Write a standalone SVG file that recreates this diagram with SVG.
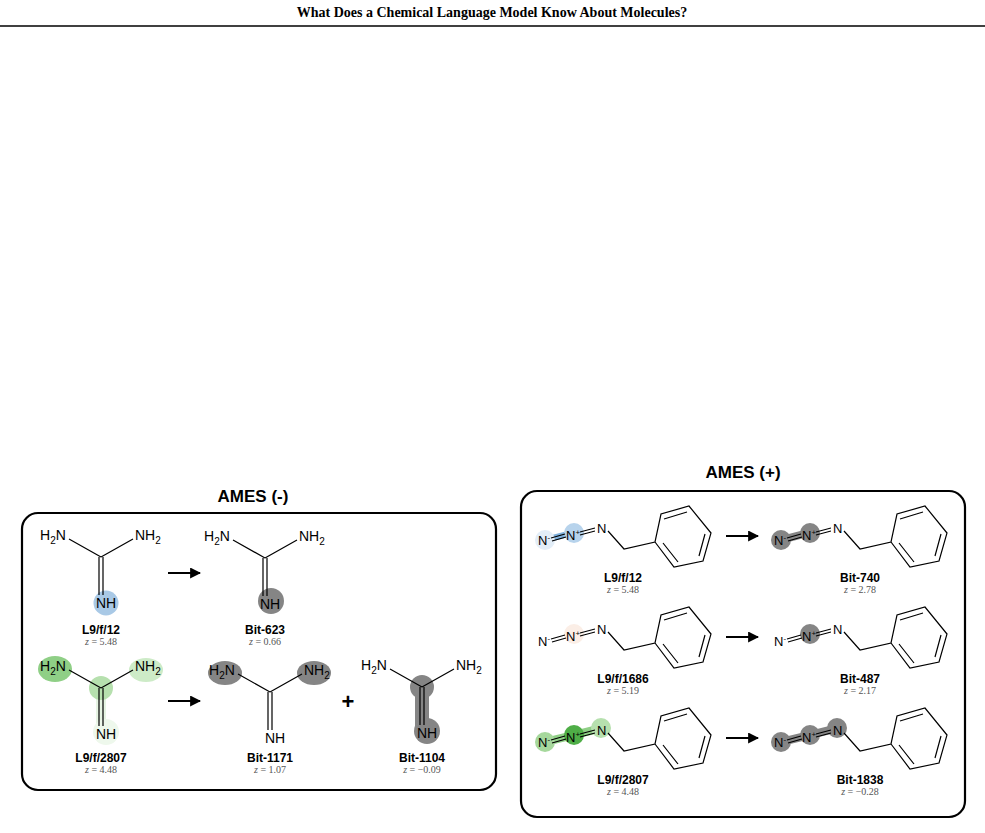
<svg xmlns="http://www.w3.org/2000/svg" xmlns:xlink="http://www.w3.org/1999/xlink" width="985" height="833" viewBox="0 0 985 833">
<style>
.t{font-family:"Liberation Sans",Arial,sans-serif}
.title{font-family:"Liberation Serif",serif;font-weight:bold;font-size:14px}
.hd{font-family:"Liberation Sans",Arial,sans-serif;font-weight:bold;font-size:17px}
.lab{font-family:"Liberation Sans",Arial,sans-serif;font-weight:bold;font-size:12px;text-anchor:middle}
.z{font-family:"Liberation Serif",serif;font-size:10px;fill:#555;text-anchor:middle}
.at{font-family:"Liberation Sans",Arial,sans-serif;font-size:14px}
.sa{font-family:"Liberation Sans",Arial,sans-serif;font-size:13px}
.b{stroke:#000;stroke-width:1.2;fill:none}
.box{fill:none;stroke:#000;stroke-width:2.2}
.arr{stroke:#000;stroke-width:2}
.gr{fill:#858585}
</style>
<defs>
<marker id="ah" viewBox="0 0 10 10" refX="9" refY="5" markerWidth="5.5" markerHeight="5.5" orient="auto"><path d="M0,0L10,5L0,10z"/></marker>
<g id="guan">
<path class="b" d="M0,0L-32,-18M0,0L32,-18M-2,0V38M2,0V38"/>
<text class="at" x="-61" y="-17">H<tspan font-size="10" dy="4">2</tspan><tspan dy="-4">N</tspan></text>
<text class="at" x="34" y="-17">NH<tspan font-size="10" dy="4">2</tspan></text>
<text class="at" x="-5" y="51">NH</text>
</g>
<g id="azide">
<path class="b" d="M8,-2L22,-6M9,1L23,-3M37,-8L52,-12M37,-5L52,-9M65,-9L81,9L112,2L118,-26L146,-34L168,-7L160,21L131,27L112,2M121,-21L144,-28M162,-6L156,16M135,22L120,3"/>
<text class="sa" x="-5" y="5">N<tspan font-size="8" dy="-5">-</tspan></text>
<text class="sa" x="23" y="0">N<tspan font-size="8" dy="-5">+</tspan></text>
<text class="sa" x="54" y="-7">N</text>
</g>
</defs>
<text class="title" x="492" y="17" text-anchor="middle">What Does a Chemical Language Model Know About Molecules?</text>
<line x1="0" y1="26" x2="985" y2="26" stroke="#000" stroke-width="1.5"/>

<text class="hd" x="253" y="502" text-anchor="middle">AMES (-)</text>
<rect class="box" x="22" y="513" width="474" height="277" rx="16"/>
<text class="hd" x="743" y="478" text-anchor="middle">AMES (+)</text>
<rect class="box" x="521" y="491" width="444" height="326" rx="16"/>

<g id="neg-l9f12">
<circle cx="106" cy="603" r="12.5" fill="#a9c9e6"/>
<use xlink:href="#guan" x="101" y="557"/>
<text class="lab" x="101" y="634">L9/f/12</text><text class="z" x="101" y="645"><tspan font-style="italic">z</tspan> = 5.48</text>
</g>
<g id="neg-bit623">
<circle cx="271" cy="601" r="13" class="gr"/>
<use xlink:href="#guan" x="265" y="558"/>
<text class="lab" x="265" y="634">Bit-623</text><text class="z" x="265" y="645"><tspan font-style="italic">z</tspan> = 0.66</text>
</g>
<g id="neg-l9f2807">
<rect x="96" y="688" width="10" height="38" fill="#e6f4e3"/>
<circle cx="106" cy="732" r="13" fill="#eef8ec"/>
<circle cx="101" cy="688" r="12" fill="#b6e0ae"/>
<ellipse cx="55" cy="669" rx="17" ry="13" fill="#8fcf86"/>
<ellipse cx="146" cy="670" rx="17" ry="12" fill="#cdebc7"/>
<use xlink:href="#guan" x="101" y="688"/>
<text class="lab" x="101" y="762">L9/f/2807</text><text class="z" x="101" y="773"><tspan font-style="italic">z</tspan> = 4.48</text>
</g>
<g id="neg-bit1171">
<ellipse cx="225" cy="673" rx="17" ry="12" class="gr"/>
<ellipse cx="314" cy="673" rx="17" ry="12" class="gr"/>
<use xlink:href="#guan" x="270" y="692"/>
<text class="lab" x="270" y="762">Bit-1171</text><text class="z" x="270" y="773"><tspan font-style="italic">z</tspan> = 1.07</text>
</g>
<g id="neg-bit1104">
<rect x="415" y="687" width="14" height="44" class="gr"/>
<circle cx="422" cy="687" r="12" class="gr"/>
<circle cx="427" cy="731" r="13" class="gr"/>
<use xlink:href="#guan" x="422" y="687"/>
<text class="lab" x="422" y="762">Bit-1104</text><text class="z" x="422" y="773"><tspan font-style="italic">z</tspan> = −0.09</text>
</g>
<text class="t" x="348" y="709" font-size="22" font-weight="bold" text-anchor="middle">+</text>

<g id="pos-l9f12">
<path d="M545,540L572,533" stroke="#7fb0dc" stroke-width="6"/>
<circle cx="545" cy="540" r="10" fill="#e3eef8"/>
<circle cx="574" cy="533" r="10" fill="#b7d3ec"/>
<use xlink:href="#azide" x="543" y="540"/>
<text class="lab" x="623" y="582">L9/f/12</text><text class="z" x="623" y="593"><tspan font-style="italic">z</tspan> = 5.48</text>
</g>
<g id="pos-bit740">
<path d="M781,540L808,533" stroke="#858585" stroke-width="8"/>
<circle cx="781" cy="540" r="10" class="gr"/><circle cx="810" cy="533" r="10" class="gr"/>
<use xlink:href="#azide" x="779" y="540"/>
<text class="lab" x="860" y="582">Bit-740</text><text class="z" x="860" y="593"><tspan font-style="italic">z</tspan> = 2.78</text>
</g>
<g id="pos-l9f1686">
<circle cx="574" cy="634" r="10" fill="#fbeee6"/>
<use xlink:href="#azide" x="543" y="641"/>
<text class="lab" x="623" y="683">L9/f/1686</text><text class="z" x="623" y="694"><tspan font-style="italic">z</tspan> = 5.19</text>
</g>
<g id="pos-bit487">
<circle cx="810" cy="634" r="10" class="gr"/>
<use xlink:href="#azide" x="779" y="641"/>
<text class="lab" x="860" y="683">Bit-487</text><text class="z" x="860" y="694"><tspan font-style="italic">z</tspan> = 2.17</text>
</g>
<g id="pos-l9f2807">
<path d="M545,742L574,735L602,728" stroke="#8fcf86" stroke-width="8"/>
<circle cx="545" cy="742" r="10" fill="#a6d89c"/>
<circle cx="574" cy="735" r="10" fill="#4fae47"/>
<circle cx="601" cy="728" r="10" fill="#b6e0ae"/>
<use xlink:href="#azide" x="543" y="742"/>
<text class="lab" x="623" y="784">L9/f/2807</text><text class="z" x="623" y="795"><tspan font-style="italic">z</tspan> = 4.48</text>
</g>
<g id="pos-bit1838">
<path d="M781,742L810,735L838,728" stroke="#858585" stroke-width="8"/>
<circle cx="781" cy="742" r="10" class="gr"/><circle cx="810" cy="735" r="10" class="gr"/><circle cx="837" cy="728" r="10" class="gr"/>
<use xlink:href="#azide" x="779" y="742"/>
<text class="lab" x="860" y="784">Bit-1838</text><text class="z" x="860" y="795"><tspan font-style="italic">z</tspan> = −0.28</text>
</g>

<g id="connectors">
<line class="arr" x1="168" y1="573" x2="200" y2="573" marker-end="url(#ah)"/>
<line class="arr" x1="168" y1="701" x2="200" y2="701" marker-end="url(#ah)"/>
<line class="arr" x1="726" y1="536" x2="758" y2="536" marker-end="url(#ah)"/>
<line class="arr" x1="726" y1="637" x2="758" y2="637" marker-end="url(#ah)"/>
<line class="arr" x1="726" y1="738" x2="758" y2="738" marker-end="url(#ah)"/>
</g>
</svg>
